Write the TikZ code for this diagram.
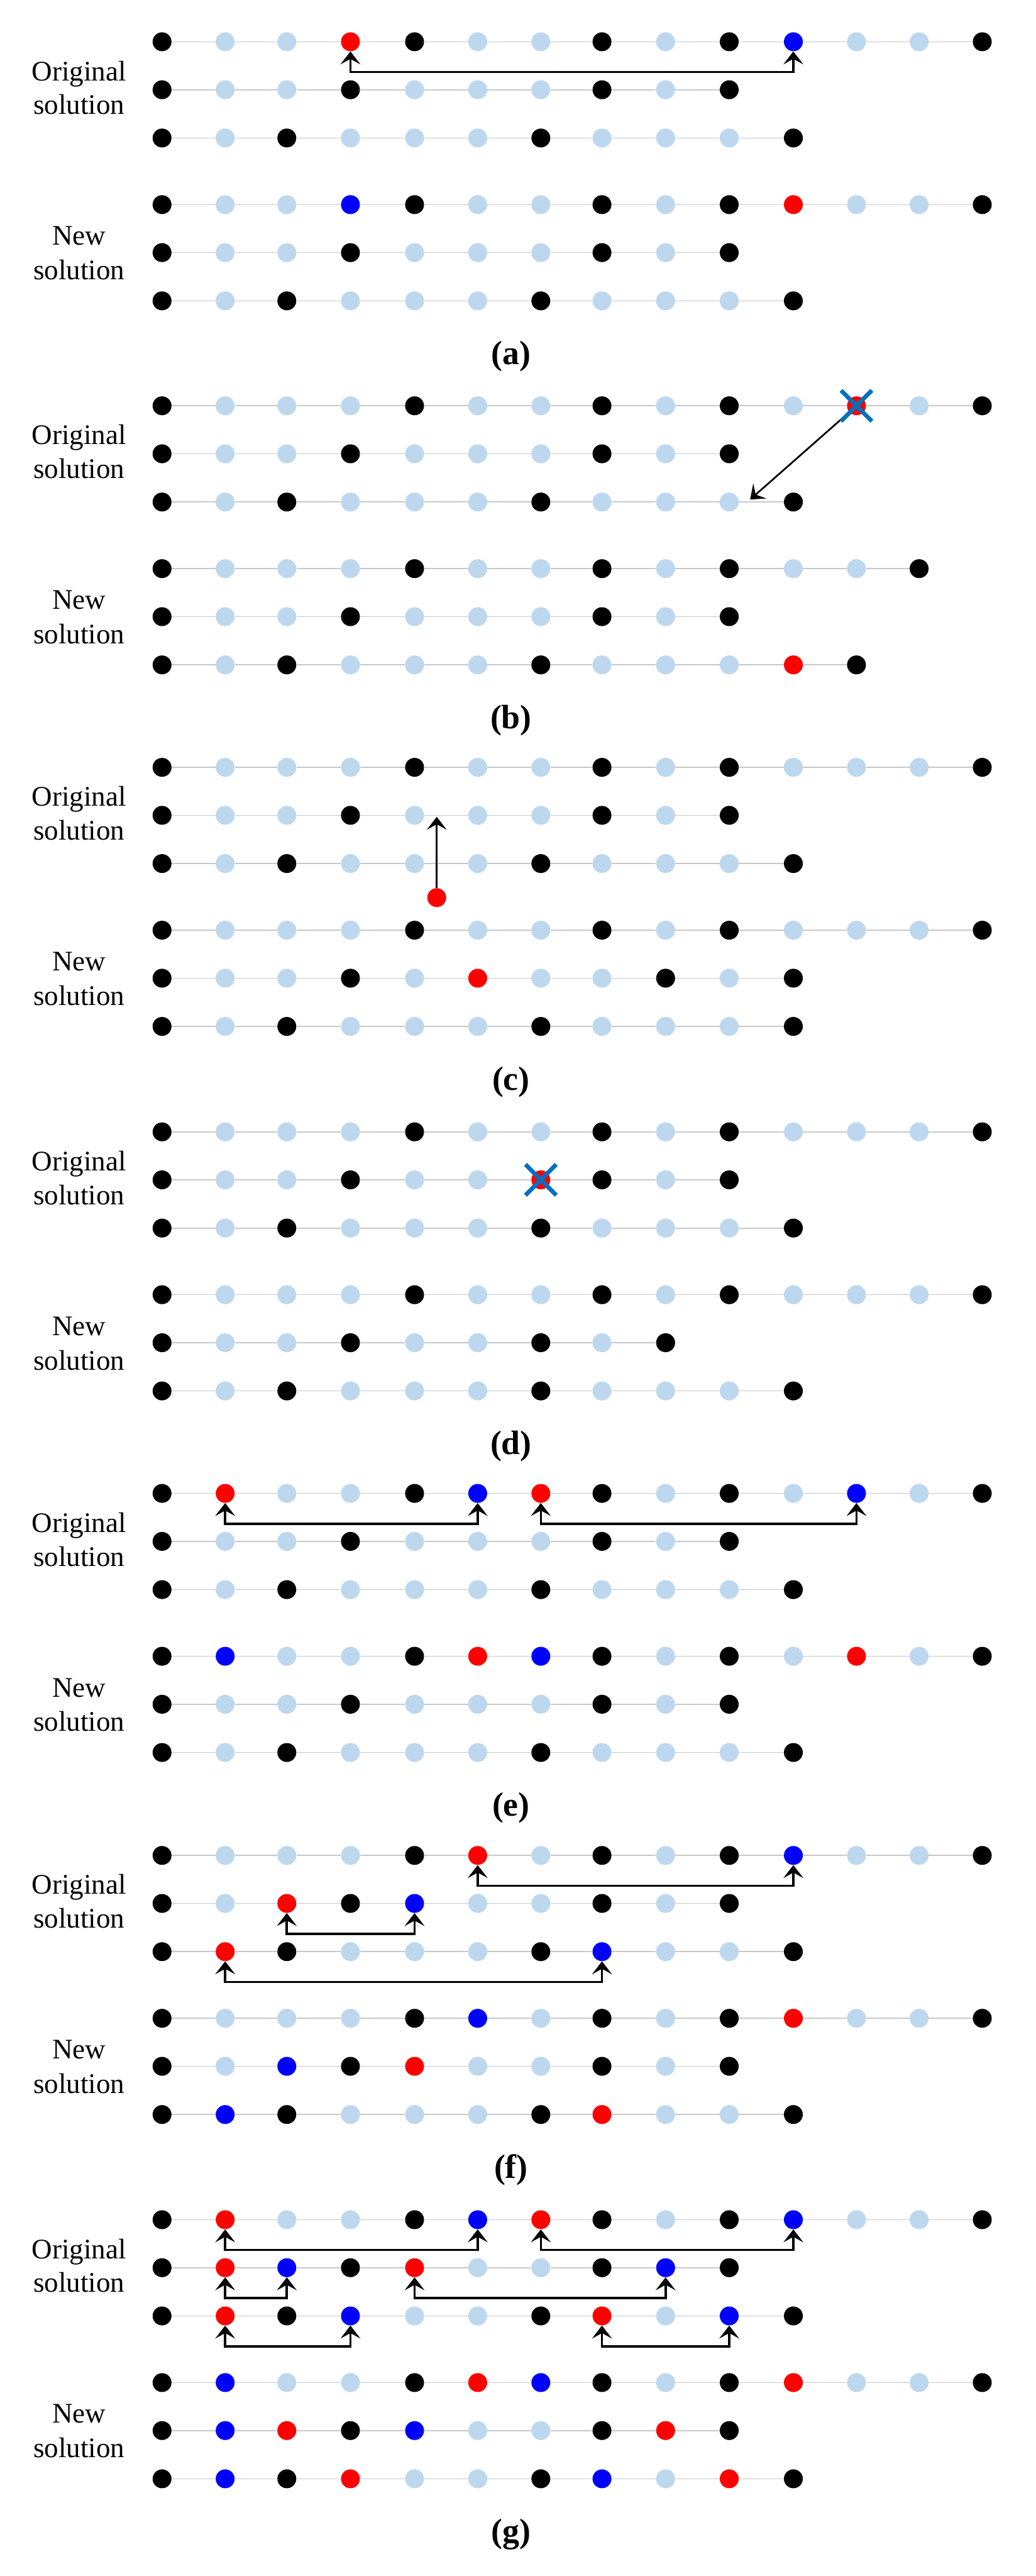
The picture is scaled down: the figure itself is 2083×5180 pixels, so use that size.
\documentclass[tikz,border=0pt]{standalone}
\usepackage{fontspec}
\setmainfont{Liberation Serif}
\usetikzlibrary{arrows.meta}
\definecolor{cK}{RGB}{0,0,0}
\definecolor{cL}{RGB}{189,215,238}
\definecolor{cR}{RGB}{255,0,0}
\definecolor{cB}{RGB}{0,0,255}
\definecolor{xblue}{RGB}{0,112,192}
\definecolor{linkgray}{RGB}{200,200,200}
\tikzset{
  dot/.style={circle, draw=none, inner sep=0pt, minimum size=19pt},
  link/.style={draw=linkgray, line width=1pt},
  lbl/.style={anchor=base, inner sep=0pt, font=\fontsize{28.5pt}{34pt}\selectfont},
  captxt/.style={anchor=base, inner sep=0pt, font=\fontsize{34pt}{40pt}\selectfont\bfseries},
  arr/.style={line width=1.75pt, arrows={-Stealth[length=13pt,width=20pt,inset=5.5pt]}},
  brk/.style={line width=2.25pt, arrows={Stealth[length=13pt,width=20pt,inset=5.5pt]-Stealth[length=13pt,width=20pt,inset=5.5pt]}},
  xm/.style={draw=xblue, line width=4.25pt}
}
\newcommand\solrow[3]{%
  \foreach \cc [count=\ii from 0] in {#3} {%
    \pgfmathsetmacro\xx{{326,453,577,705,834,961,1088,1211,1339,1467,1596,1723,1849,1976}[\ii]}%
    \node[dot, fill=c\cc] (#1-\ii) at (\xx,#2) {};%
    \ifnum\ii>0 \pgfmathtruncatemacro\jj{\ii-1}\draw[link] (#1-\jj) -- (#1-\ii);\fi
  }%
}
\newcommand\panellabels[2]{%
  \node[lbl] (#1-l1) at (159,\Y+78) {Original};
  \node[lbl] (#1-l2) at (159,\Y+146) {solution};
  \node[lbl] (#1-l3) at (159,\Y+409) {New};
  \node[lbl] (#1-l4) at (159,\Y+478.5) {solution};
  \node[captxt] (#1-cap) at (1028,\Y+649) {(#2)};
}
\newcommand\brk[2]{\draw[brk] (#1) -- ++(0,61) -| (#2);}
\newcommand\xmark[1]{%
  \draw[xm] ([shift={(-31,-31)}]#1.center) -- ([shift={(31,31)}]#1.center);
  \draw[xm] ([shift={(-31,31)}]#1.center) -- ([shift={(31,-31)}]#1.center);
}
\begin{document}
\begin{tikzpicture}[x=0.5pt,y=-0.5pt]
\path[use as bounding box, fill=white] (0,0) rectangle (2083,5180);

% (a)
\def\Y{84}
\solrow{a-o0}{\Y}{K,L,L,R,K,L,L,K,L,K,B,L,L,K}
\solrow{a-o1}{\Y+96.5}{K,L,L,K,L,L,L,K,L,K}
\solrow{a-o2}{\Y+193.5}{K,L,K,L,L,L,K,L,L,L,K}
\solrow{a-n0}{\Y+327.5}{K,L,L,B,K,L,L,K,L,K,R,L,L,K}
\solrow{a-n1}{\Y+424}{K,L,L,K,L,L,L,K,L,K}
\solrow{a-n2}{\Y+521}{K,L,K,L,L,L,K,L,L,L,K}
\brk{a-o0-3}{a-o0-10}
\panellabels{a}{a}

% (b)
\def\Y{816}
\solrow{b-o0}{\Y}{K,L,L,L,K,L,L,K,L,K,L,R,L,K}
\solrow{b-o1}{\Y+96.5}{K,L,L,K,L,L,L,K,L,K}
\solrow{b-o2}{\Y+193.5}{K,L,K,L,L,L,K,L,L,L,K}
\solrow{b-n0}{\Y+327.5}{K,L,L,L,K,L,L,K,L,K,L,L,K}
\solrow{b-n1}{\Y+424}{K,L,L,K,L,L,L,K,L,K}
\solrow{b-n2}{\Y+521}{K,L,K,L,L,L,K,L,L,L,R,K}
\coordinate (b-tip) at (1509,\Y+188.5);
\draw[arr, shorten <=10pt] (b-o0-11) -- (b-tip);
\xmark{b-o0-11}
\panellabels{b}{b}

% (c)
\def\Y{1543}
\solrow{c-o0}{\Y}{K,L,L,L,K,L,L,K,L,K,L,L,L,K}
\solrow{c-o1}{\Y+96.5}{K,L,L,K,L,L,L,K,L,K}
\solrow{c-o2}{\Y+193.5}{K,L,K,L,L,L,K,L,L,L,K}
\solrow{c-n0}{\Y+327.5}{K,L,L,L,K,L,L,K,L,K,L,L,L,K}
\solrow{c-n1}{\Y+424}{K,L,L,K,L,R,L,L,K,L,K}
\solrow{c-n2}{\Y+521}{K,L,K,L,L,L,K,L,L,L,K}
\node[dot, fill=cR] (c-mv) at (878.6,\Y+262) {};
\coordinate (c-tip) at (878.6,\Y+99.5);
\draw[arr] (c-mv) -- (c-tip);
\panellabels{c}{c}

% (d)
\def\Y{2276}
\solrow{d-o0}{\Y}{K,L,L,L,K,L,L,K,L,K,L,L,L,K}
\solrow{d-o1}{\Y+96.5}{K,L,L,K,L,L,R,K,L,K}
\solrow{d-o2}{\Y+193.5}{K,L,K,L,L,L,K,L,L,L,K}
\solrow{d-n0}{\Y+327.5}{K,L,L,L,K,L,L,K,L,K,L,L,L,K}
\solrow{d-n1}{\Y+424}{K,L,L,K,L,L,K,L,K}
\solrow{d-n2}{\Y+521}{K,L,K,L,L,L,K,L,L,L,K}
\xmark{d-o1-6}
\panellabels{d}{d}

% (e)
\def\Y{3003}
\solrow{e-o0}{\Y}{K,R,L,L,K,B,R,K,L,K,L,B,L,K}
\solrow{e-o1}{\Y+96.5}{K,L,L,K,L,L,L,K,L,K}
\solrow{e-o2}{\Y+193.5}{K,L,K,L,L,L,K,L,L,L,K}
\solrow{e-n0}{\Y+327.5}{K,B,L,L,K,R,B,K,L,K,L,R,L,K}
\solrow{e-n1}{\Y+424}{K,L,L,K,L,L,L,K,L,K}
\solrow{e-n2}{\Y+521}{K,L,K,L,L,L,K,L,L,L,K}
\brk{e-o0-1}{e-o0-5}
\brk{e-o0-6}{e-o0-11}
\panellabels{e}{e}

% (f)
\def\Y{3731}
\solrow{f-o0}{\Y}{K,L,L,L,K,R,L,K,L,K,B,L,L,K}
\solrow{f-o1}{\Y+96.5}{K,L,R,K,B,L,L,K,L,K}
\solrow{f-o2}{\Y+193.5}{K,R,K,L,L,L,K,B,L,L,K}
\solrow{f-n0}{\Y+327.5}{K,L,L,L,K,B,L,K,L,K,R,L,L,K}
\solrow{f-n1}{\Y+424}{K,L,B,K,R,L,L,K,L,K}
\solrow{f-n2}{\Y+521}{K,B,K,L,L,L,K,R,L,L,K}
\brk{f-o0-5}{f-o0-10}
\brk{f-o1-2}{f-o1-4}
\brk{f-o2-1}{f-o2-7}
\panellabels{f}{f}

% (g)
\def\Y{4463.5}
\solrow{g-o0}{\Y}{K,R,L,L,K,B,R,K,L,K,B,L,L,K}
\solrow{g-o1}{\Y+96.5}{K,R,B,K,R,L,L,K,B,K}
\solrow{g-o2}{\Y+193.5}{K,R,K,B,L,L,K,R,L,B,K}
\solrow{g-n0}{\Y+327.5}{K,B,L,L,K,R,B,K,L,K,R,L,L,K}
\solrow{g-n1}{\Y+424}{K,B,R,K,B,L,L,K,R,K}
\solrow{g-n2}{\Y+521}{K,B,K,R,L,L,K,B,L,R,K}
\brk{g-o0-1}{g-o0-5}
\brk{g-o0-6}{g-o0-10}
\brk{g-o1-1}{g-o1-2}
\brk{g-o1-4}{g-o1-8}
\brk{g-o2-1}{g-o2-3}
\brk{g-o2-7}{g-o2-9}
\panellabels{g}{g}
\end{tikzpicture}
\end{document}
